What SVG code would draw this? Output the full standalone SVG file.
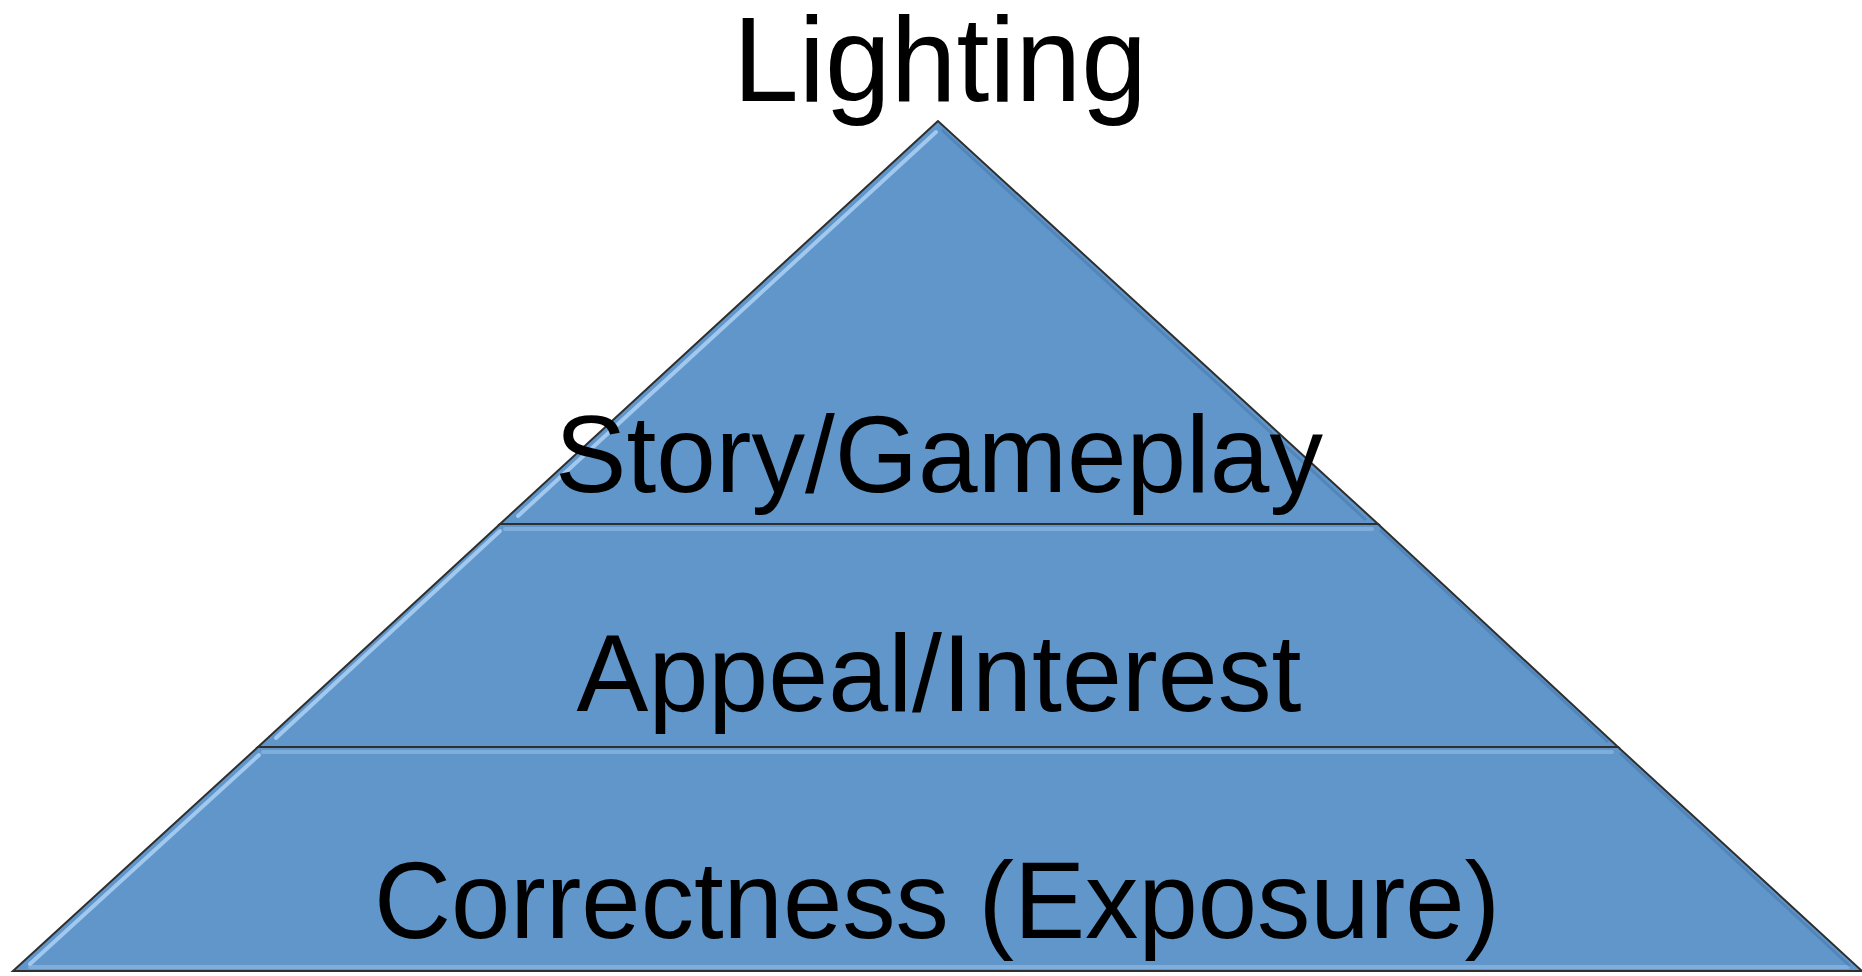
<svg xmlns="http://www.w3.org/2000/svg" width="1862" height="976" viewBox="0 0 1862 976">
<style>
.layer{fill:#6096c9;stroke:#2f2f2f;stroke-width:2;stroke-linejoin:miter}
.hl{stroke:#a8cdf3;stroke-width:4;stroke-linecap:round;fill:none;opacity:0.9}
.sh{stroke:#4a7bb0;stroke-width:3;fill:none;opacity:0.6}
.lbl{font-family:"Liberation Sans",Arial,sans-serif;fill:#000;text-anchor:middle}
</style>
<rect width="1862" height="976" fill="#ffffff"/>
<text class="lbl" x="940" y="101" font-size="121" textLength="414" lengthAdjust="spacingAndGlyphs">Lighting</text>
<g id="top">
<polygon class="layer" points="938,121 500,524 1378,524"/>
<line class="hl" x1="936" y1="132" x2="518" y2="516"/>
<line class="sh" x1="942" y1="130" x2="1366" y2="520"/>
<text class="lbl" x="939" y="492" font-size="110" textLength="768" lengthAdjust="spacingAndGlyphs">Story/Gameplay</text>
</g>
<g id="middle">
<polygon class="layer" points="500,524 1378,524 1618,747 258,747"/>
<line class="hl" x1="500" y1="531" x2="276" y2="738"/>
<line class="hl" x1="505" y1="529" x2="1372" y2="529" style="opacity:0.45"/>
<line class="sh" x1="1380" y1="530" x2="1608" y2="742"/>
<text class="lbl" x="939" y="711" font-size="110" textLength="725" lengthAdjust="spacingAndGlyphs">Appeal/Interest</text>
</g>
<g id="bottom">
<polygon class="layer" points="258,747 1618,747 1862,971 13,971"/>
<line class="hl" x1="259" y1="755" x2="30" y2="964"/>
<line class="hl" x1="263" y1="752" x2="1612" y2="752" style="opacity:0.45"/>
<line class="hl" x1="30" y1="967" x2="1848" y2="967" style="opacity:0.45"/>
<line class="sh" x1="1620" y1="753" x2="1850" y2="966"/>
<text class="lbl" x="937" y="938" font-size="110" textLength="1126" lengthAdjust="spacingAndGlyphs">Correctness (Exposure)</text>
</g>
<g id="connectors"></g>
</svg>
